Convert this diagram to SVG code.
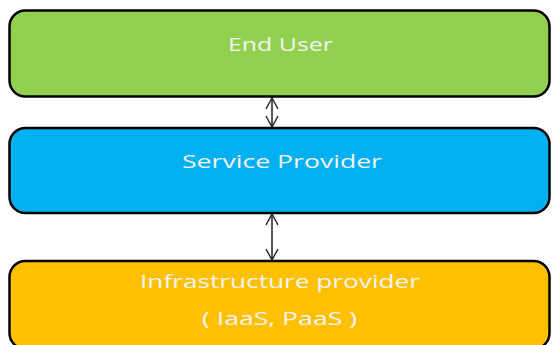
<svg xmlns="http://www.w3.org/2000/svg" width="554" height="345" viewBox="0 0 554 345">
  <defs>
    <marker id="tip" viewBox="0 0 14 14" refX="13" refY="7" markerWidth="14" markerHeight="14" markerUnits="userSpaceOnUse" orient="auto-start-reverse">
      <path d="M2,1 L13,7 L2,13" fill="none" stroke="#222" stroke-width="1.4"/>
    </marker>
  </defs>
  <style>
    .box { stroke: #000; stroke-width: 2.5; }
    .label { font-family: "Open Sans", "DejaVu Sans", sans-serif; font-size: 18px; fill: #f4f4f4; text-anchor: middle; }
    .link { stroke: #222; stroke-width: 1.5; fill: none; marker-start: url(#tip); marker-end: url(#tip); }
  </style>
  <rect width="554" height="345" fill="#fff"/>
  <g id="connectors">
    <line class="link" x1="272" y1="98" x2="272" y2="127"/>
    <line class="link" x1="272" y1="214" x2="272" y2="260"/>
  </g>
  <g id="end-user">
    <rect class="box" x="9.5" y="10.5" width="540" height="86" rx="16" fill="#92d050"/>
    <text class="label" x="280.5" y="51" textLength="105" lengthAdjust="spacingAndGlyphs">End User</text>
  </g>
  <g id="service-provider">
    <rect class="box" x="9.5" y="128" width="540" height="85" rx="16" fill="#00b0f0"/>
    <text class="label" x="282" y="168" textLength="200" lengthAdjust="spacingAndGlyphs">Service Provider</text>
  </g>
  <g id="infrastructure-provider">
    <rect class="box" x="9.5" y="261" width="540" height="88" rx="16" fill="#ffc000"/>
    <text class="label" x="280" y="288" textLength="280" lengthAdjust="spacingAndGlyphs">Infrastructure provider</text>
    <text class="label" x="279.5" y="325" textLength="155" lengthAdjust="spacingAndGlyphs">( IaaS, PaaS )</text>
  </g>
</svg>
